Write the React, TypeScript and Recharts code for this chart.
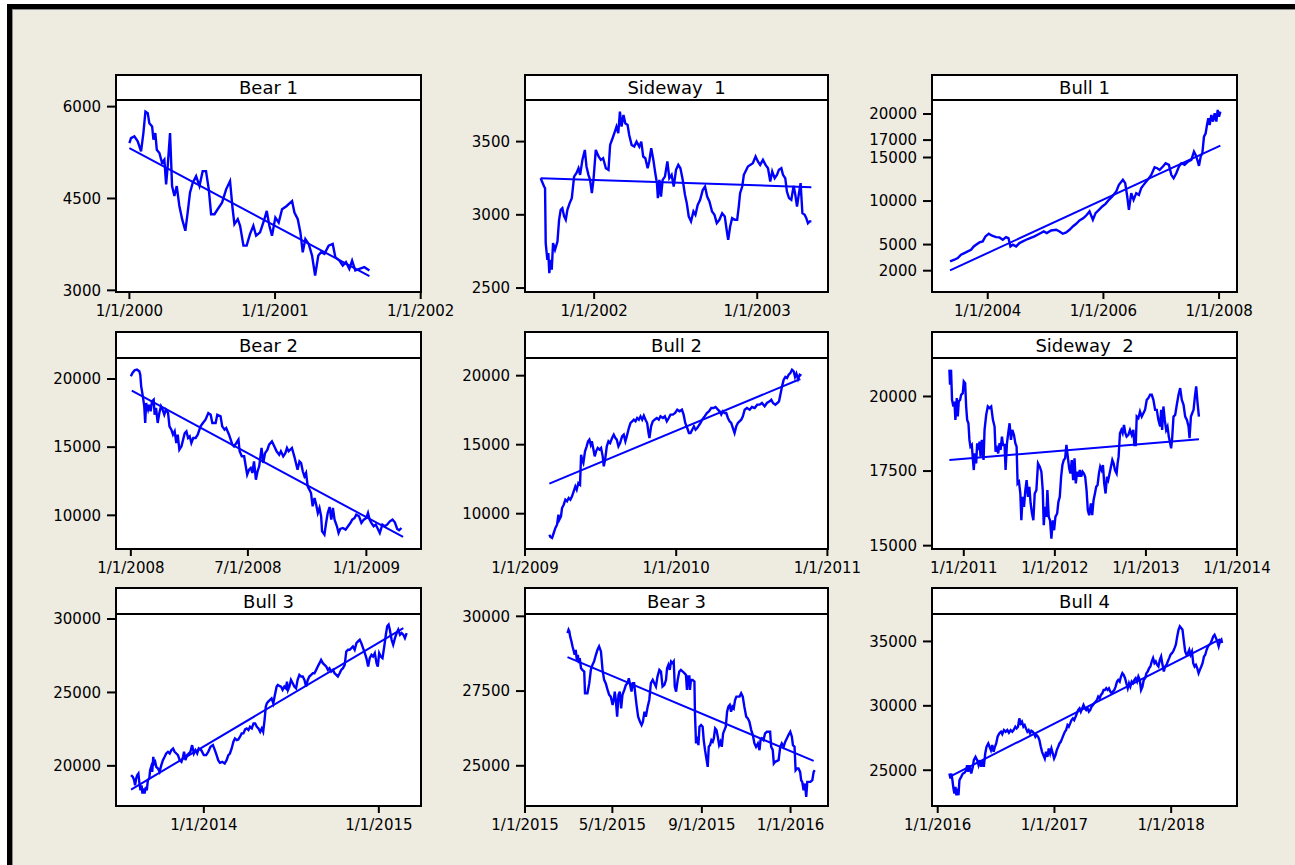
import React from "react";
import { LineChart, Line, XAxis, YAxis } from "recharts";

const BLUE = "#0000ff";
const FONT = "'DejaVu Sans', Verdana, sans-serif";

// ---- Bear 1 ----
const bear1Years = [
  2000.000, 2000.011, 2000.034, 2000.057, 2000.080, 2000.096, 2000.110, 2000.126, 2000.137, 2000.156,
  2000.165, 2000.178, 2000.188, 2000.206, 2000.224, 2000.240, 2000.252, 2000.263, 2000.279, 2000.293,
  2000.309, 2000.325, 2000.343, 2000.362, 2000.384, 2000.400, 2000.416, 2000.435, 2000.458, 2000.481,
  2000.503, 2000.526, 2000.545, 2000.561, 2000.584, 2000.606, 2000.636, 2000.664, 2000.691, 2000.709,
  2000.721, 2000.744, 2000.760, 2000.783, 2000.805, 2000.828, 2000.851, 2000.870, 2000.897, 2000.927,
  2000.943, 2000.961, 2000.979, 2001.002, 2001.025, 2001.048, 2001.080, 2001.117, 2001.133, 2001.156,
  2001.174, 2001.190, 2001.208, 2001.231, 2001.254, 2001.275, 2001.297, 2001.316, 2001.339, 2001.368,
  2001.396, 2001.414, 2001.442, 2001.465, 2001.487, 2001.510, 2001.529, 2001.551, 2001.579, 2001.613,
  2001.648,
];
const bear1Values = [
  5405, 5486, 5514, 5432, 5270, 5568, 5919, 5892, 5730, 5676,
  5460, 5568, 5297, 5243, 5081, 5135, 4730, 5027, 5568, 4703,
  4540, 4703, 4378, 4162, 3973, 4270, 4595, 4757, 4865, 4703,
  4946, 4946, 4649, 4243, 4243, 4324, 4432, 4649, 4784, 4324,
  4081, 4162, 4054, 3730, 3730, 3919, 4054, 3892, 3946, 4162,
  4297, 4054, 3892, 4189, 4108, 4324, 4378, 4459, 4270, 4162,
  3946, 3622, 3838, 3757, 3568, 3243, 3568, 3622, 3595, 3730,
  3757, 3541, 3487, 3405, 3460, 3351, 3487, 3324, 3351, 3378,
  3324,
];
const bear1TrendYears = [2000.0, 2001.648];
const bear1TrendValues = [5324, 3232];
const bear1YTicks = [3000, 4500, 6000];
const bear1XTicks = [2000, 2001, 2002];
const bear1XLabels = ["1/1/2000", "1/1/2001", "1/1/2002"];

// ---- Sideway 1 ----
const side1Years = [
  2001.672, 2001.693, 2001.699, 2001.703, 2001.713, 2001.719, 2001.725, 2001.734, 2001.740, 2001.748,
  2001.760, 2001.775, 2001.785, 2001.795, 2001.805, 2001.816, 2001.826, 2001.836, 2001.850, 2001.863,
  2001.877, 2001.891, 2001.904, 2001.914, 2001.928, 2001.943, 2001.953, 2001.965, 2001.975, 2001.986,
  2001.996, 2002.010, 2002.027, 2002.041, 2002.055, 2002.072, 2002.088, 2002.098, 2002.113, 2002.127,
  2002.137, 2002.148, 2002.158, 2002.168, 2002.180, 2002.191, 2002.205, 2002.215, 2002.230, 2002.246,
  2002.260, 2002.277, 2002.289, 2002.301, 2002.314, 2002.328, 2002.338, 2002.350, 2002.363, 2002.375,
  2002.385, 2002.391, 2002.400, 2002.410, 2002.420, 2002.434, 2002.449, 2002.461, 2002.475, 2002.488,
  2002.502, 2002.516, 2002.529, 2002.543, 2002.557, 2002.568, 2002.580, 2002.594, 2002.609, 2002.621,
  2002.635, 2002.650, 2002.666, 2002.680, 2002.693, 2002.707, 2002.723, 2002.738, 2002.752, 2002.768,
  2002.785, 2002.801, 2002.814, 2002.822, 2002.834, 2002.846, 2002.863, 2002.877, 2002.887, 2002.895,
  2002.908, 2002.918, 2002.928, 2002.943, 2002.957, 2002.973, 2002.990, 2003.004, 2003.018, 2003.035,
  2003.051, 2003.066, 2003.080, 2003.092, 2003.107, 2003.121, 2003.133, 2003.148, 2003.158, 2003.172,
  2003.182, 2003.195, 2003.209, 2003.223, 2003.232, 2003.244, 2003.256, 2003.266, 2003.277, 2003.291,
  2003.301, 2003.311, 2003.322, 2003.332,
];
const side1Values = [
  3250, 3193, 3182, 2807, 2693, 2739, 2602, 2693, 2625, 2807,
  2761, 2818, 2966, 3034, 3045, 2989, 2966, 3034, 3080, 3114,
  3261, 3284, 3318, 3273, 3375, 3443, 3330, 3273, 3239, 3148,
  3239, 3443, 3398, 3375, 3386, 3318, 3307, 3477, 3523, 3568,
  3602, 3557, 3705, 3602, 3682, 3625, 3614, 3545, 3477, 3466,
  3500, 3466, 3500, 3398, 3386, 3318, 3364, 3455, 3375, 3284,
  3216, 3114, 3239, 3125, 3239, 3261, 3364, 3250, 3273, 3193,
  3307, 3341, 3318, 3239, 3136, 3080, 2989, 2955, 3023, 3000,
  3068, 3102, 3170, 3193, 3125, 3091, 3023, 3000, 2943, 2966,
  3011, 2989, 2886, 2830, 2920, 2977, 2966, 2966, 3057, 3148,
  3193, 3273, 3296, 3330, 3341, 3352, 3398, 3364, 3341, 3375,
  3341, 3318, 3227, 3296, 3250, 3273, 3307, 3318, 3273, 3250,
  3159, 3114, 3102, 3198, 3148, 3057, 3148, 3216, 3011, 3000,
  2977, 2943, 2955, 2955,
];
const side1TrendYears = [2001.672, 2003.332];
const side1TrendValues = [3250, 3189];
const side1YTicks = [2500, 3000, 3500];
const side1XTicks = [2002, 2003];
const side1XLabels = ["1/1/2002", "1/1/2003"];

// ---- Bull 1 ----
const bull1Years = [
  2003.348, 2003.423, 2003.481, 2003.538, 2003.596, 2003.654, 2003.711, 2003.758, 2003.798, 2003.856,
  2003.913, 2003.960, 2004.017, 2004.075, 2004.144, 2004.202, 2004.260, 2004.317, 2004.358, 2004.392,
  2004.433, 2004.490, 2004.548, 2004.606, 2004.664, 2004.733, 2004.808, 2004.894, 2004.969, 2005.021,
  2005.096, 2005.183, 2005.241, 2005.298, 2005.356, 2005.414, 2005.471, 2005.529, 2005.587, 2005.656,
  2005.714, 2005.760, 2005.818, 2005.864, 2005.922, 2005.980, 2006.037, 2006.095, 2006.153, 2006.222,
  2006.268, 2006.337, 2006.377, 2006.412, 2006.441, 2006.481, 2006.522, 2006.568, 2006.614, 2006.654,
  2006.695, 2006.741, 2006.787, 2006.827, 2006.885, 2006.931, 2006.972, 2007.029, 2007.076, 2007.133,
  2007.174, 2007.214, 2007.260, 2007.306, 2007.347, 2007.404, 2007.462, 2007.520, 2007.566, 2007.595,
  2007.624, 2007.653, 2007.682, 2007.711, 2007.739, 2007.768, 2007.791, 2007.814, 2007.837, 2007.866,
  2007.895, 2007.924, 2007.953, 2007.976, 2007.999, 2008.022,
];
const bull1Values = [
  3068, 3260, 3451, 3833, 4024, 4215, 4406, 4788, 4980, 5247,
  5362, 5935, 6241, 6012, 5859, 5820, 5553, 5859, 5744, 4788,
  4980, 4788, 5171, 5362, 5553, 5744, 5935, 6241, 6509, 6317,
  6623, 6699, 6509, 6241, 6394, 6699, 7082, 7387, 7770, 8037,
  8419, 8801, 7846, 8610, 8993, 9375, 9681, 10139, 10522, 11095,
  11859, 12432, 12050, 10522, 8993, 10904, 10139, 10904, 10713, 11477,
  11859, 12241, 12623, 13006, 13885, 13770, 13579, 13961, 14343, 14152,
  13006, 12623, 13197, 13961, 14343, 14152, 14535, 14726, 15681, 15299,
  14726, 14038, 15108, 15490, 17401, 17783, 18739, 19503, 18739, 19885,
  19121, 20076, 19121, 20459, 19694, 20268,
];
const bull1TrendYears = [2003.348, 2008.022];
const bull1TrendValues = [2037, 16369];
const bull1YTicks = [2000, 5000, 10000, 15000, 17000, 20000];
const bull1XTicks = [2004, 2006, 2008];
const bull1XLabels = ["1/1/2004", "1/1/2006", "1/1/2008"];

// ---- Bear 2 ----
const bear2Years = [
  2008.000, 2008.007, 2008.016, 2008.026, 2008.036, 2008.040, 2008.044, 2008.051, 2008.057, 2008.061,
  2008.065, 2008.073, 2008.078, 2008.084, 2008.090, 2008.097, 2008.101, 2008.107, 2008.114, 2008.121,
  2008.128, 2008.135, 2008.142, 2008.149, 2008.158, 2008.164, 2008.172, 2008.179, 2008.186, 2008.193,
  2008.199, 2008.206, 2008.215, 2008.222, 2008.229, 2008.236, 2008.243, 2008.250, 2008.257, 2008.265,
  2008.275, 2008.284, 2008.296, 2008.306, 2008.317, 2008.329, 2008.339, 2008.346, 2008.360, 2008.367,
  2008.381, 2008.388, 2008.398, 2008.405, 2008.417, 2008.424, 2008.431, 2008.438, 2008.448, 2008.457,
  2008.462, 2008.471, 2008.481, 2008.488, 2008.494, 2008.502, 2008.509, 2008.516, 2008.523, 2008.531,
  2008.538, 2008.545, 2008.555, 2008.562, 2008.570, 2008.580, 2008.587, 2008.599, 2008.609, 2008.619,
  2008.630, 2008.637, 2008.647, 2008.656, 2008.663, 2008.670, 2008.684, 2008.694, 2008.701, 2008.708,
  2008.716, 2008.723, 2008.730, 2008.737, 2008.744, 2008.751, 2008.758, 2008.765, 2008.772, 2008.780,
  2008.787, 2008.794, 2008.801, 2008.808, 2008.812, 2008.822, 2008.829, 2008.836, 2008.844, 2008.851,
  2008.858, 2008.865, 2008.875, 2008.882, 2008.889, 2008.900, 2008.912, 2008.922, 2008.932, 2008.940,
  2008.950, 2008.957, 2008.969, 2008.979, 2008.989, 2009.000, 2009.007, 2009.014, 2009.021, 2009.031,
  2009.040, 2009.047, 2009.057, 2009.068, 2009.078, 2009.088, 2009.100, 2009.111, 2009.121, 2009.131,
  2009.139, 2009.149,
];
const bear2Values = [
  20196, 20440, 20636, 20685, 20562, 20318, 19462, 18729, 17995, 16773,
  18240, 17750, 18117, 17628, 18362, 18484, 17384, 17873, 16773, 17506,
  17995, 17750, 17384, 17750, 17506, 16528, 16284, 15917, 16162, 15306,
  15917, 14817, 15061, 15550, 16039, 16162, 15673, 15795, 15306, 15673,
  15673, 15917, 16528, 16773, 17017, 17506, 17384, 16773, 16773, 17384,
  17262, 16528, 16284, 16406, 15917, 15550, 15184, 15061, 15306, 15550,
  14695, 14328, 14328, 13595, 12983, 13350, 13473, 13106, 13961, 12616,
  13228, 13595, 14939, 13839, 14562, 14817, 15184, 15428, 15061, 14695,
  14450, 14695, 14328, 14562, 14939, 14695, 14939, 14328, 13839, 13350,
  13961, 13839, 13228, 12861, 13106, 12128, 11884, 11639, 10661, 11272,
  10783, 10172, 10539, 9928, 8827, 8583, 9438, 10172, 10611, 9683,
  10539, 9683, 9194, 8705, 8999, 9072, 8949, 9194, 9438, 9683,
  9805, 10050, 9928, 9438, 9683, 9805, 10172, 9683, 9438, 9194,
  9316, 9072, 8705, 9316, 9194, 9316, 9561, 9683, 9487, 8999,
  8901, 9072,
];
const bear2TrendYears = [2008.004, 2009.156];
const bear2TrendValues = [19144, 8411];
const bear2YTicks = [10000, 15000, 20000];
const bear2XTicks = [2008, 2008.497, 2009];
const bear2XLabels = ["1/1/2008", "7/1/2008", "1/1/2009"];

// ---- Bull 2 ----
const bull2Years = [
  2009.161, 2009.168, 2009.179, 2009.190, 2009.201, 2009.212, 2009.221, 2009.227, 2009.238, 2009.245,
  2009.256, 2009.267, 2009.278, 2009.289, 2009.300, 2009.311, 2009.322, 2009.333, 2009.342, 2009.353,
  2009.364, 2009.371, 2009.377, 2009.386, 2009.397, 2009.408, 2009.417, 2009.426, 2009.435, 2009.442,
  2009.453, 2009.461, 2009.470, 2009.481, 2009.492, 2009.503, 2009.514, 2009.521, 2009.530, 2009.541,
  2009.552, 2009.563, 2009.576, 2009.587, 2009.598, 2009.607, 2009.618, 2009.629, 2009.642, 2009.653,
  2009.664, 2009.673, 2009.687, 2009.698, 2009.709, 2009.720, 2009.731, 2009.742, 2009.753, 2009.764,
  2009.775, 2009.786, 2009.797, 2009.808, 2009.817, 2009.823, 2009.834, 2009.845, 2009.857, 2009.872,
  2009.885, 2009.896, 2009.912, 2009.925, 2009.938, 2009.951, 2009.962, 2009.978, 2009.993, 2010.007,
  2010.022, 2010.038, 2010.049, 2010.060, 2010.073, 2010.084, 2010.095, 2010.106, 2010.117, 2010.128,
  2010.139, 2010.161, 2010.172, 2010.188, 2010.203, 2010.216, 2010.232, 2010.247, 2010.260, 2010.276,
  2010.287, 2010.298, 2010.309, 2010.320, 2010.331, 2010.342, 2010.353, 2010.364, 2010.375, 2010.386,
  2010.397, 2010.408, 2010.419, 2010.430, 2010.441, 2010.453, 2010.468, 2010.486, 2010.501, 2010.519,
  2010.536, 2010.552, 2010.567, 2010.585, 2010.600, 2010.618, 2010.629, 2010.640, 2010.656, 2010.669,
  2010.680, 2010.689, 2010.700, 2010.711, 2010.722, 2010.733, 2010.744, 2010.755, 2010.766, 2010.777,
  2010.786, 2010.795, 2010.806, 2010.817, 2010.828,
];
const bull2Values = [
  8481, 8311, 8239, 8601, 8964, 9205, 9930, 9567, 9809, 10412,
  10654, 11016, 10895, 11137, 11016, 11258, 11620, 11982, 11740, 12224,
  12103, 14276, 13915, 13673, 14518, 14880, 15243, 15363, 15001, 15243,
  14639, 14156, 14518, 14759, 14639, 14759, 14156, 13431, 13915, 14880,
  15243, 15122, 15484, 15726, 15484, 15363, 14880, 15122, 15605, 15726,
  15243, 15605, 16208, 16571, 16692, 16812, 16692, 16933, 16812, 17054,
  16812, 17102, 16812, 16571, 15846, 15484, 16329, 16692, 16812, 16933,
  16812, 17054, 16933, 17054, 16692, 16933, 17175, 17175, 17295, 17537,
  17416, 17537, 17175, 16571, 16208, 15846, 15846, 16088, 16329, 16088,
  16208, 16571, 16812, 17054, 17295, 17416, 17658, 17658, 17730, 17537,
  17416, 17175, 17416, 17295, 17295, 16933, 16692, 16571, 16208, 15846,
  16329, 16571, 16692, 16812, 17054, 17537, 17658, 17537, 17730, 17658,
  17899, 17899, 18020, 17778, 18020, 18141, 18261, 18020, 17899, 18020,
  18141, 18623, 19227, 19710, 19903, 19831, 20072, 20193, 20435, 20314,
  19903, 20145, 19758, 20072, 20000,
];
const bull2TrendYears = [2009.161, 2010.821];
const bull2TrendValues = [12175, 19758];
const bull2YTicks = [10000, 15000, 20000];
const bull2XTicks = [2009, 2010, 2011];
const bull2XLabels = ["1/1/2009", "1/1/2010", "1/1/2011"];

// ---- Sideway 2 ----
const side2Years = [
  2010.842, 2010.849, 2010.860, 2010.871, 2010.886, 2010.897, 2010.908, 2010.923, 2010.934, 2010.945,
  2010.960, 2010.971, 2010.989, 2011.000, 2011.015, 2011.026, 2011.037, 2011.051, 2011.062, 2011.073,
  2011.088, 2011.099, 2011.110, 2011.121, 2011.136, 2011.147, 2011.162, 2011.173, 2011.184, 2011.198,
  2011.217, 2011.228, 2011.246, 2011.264, 2011.283, 2011.301, 2011.320, 2011.338, 2011.349, 2011.364,
  2011.378, 2011.393, 2011.404, 2011.419, 2011.430, 2011.448, 2011.459, 2011.474, 2011.488, 2011.503,
  2011.518, 2011.533, 2011.551, 2011.566, 2011.580, 2011.591, 2011.606, 2011.621, 2011.632, 2011.646,
  2011.661, 2011.676, 2011.690, 2011.705, 2011.720, 2011.734, 2011.749, 2011.764, 2011.779, 2011.797,
  2011.815, 2011.834, 2011.852, 2011.867, 2011.878, 2011.892, 2011.907, 2011.918, 2011.933, 2011.947,
  2011.962, 2011.977, 2011.992, 2012.006, 2012.025, 2012.039, 2012.054, 2012.069, 2012.083, 2012.098,
  2012.113, 2012.127, 2012.142, 2012.157, 2012.171, 2012.186, 2012.201, 2012.216, 2012.230, 2012.245,
  2012.260, 2012.274, 2012.289, 2012.304, 2012.318, 2012.333, 2012.348, 2012.362, 2012.377, 2012.396,
  2012.410, 2012.425, 2012.440, 2012.454, 2012.469, 2012.484, 2012.498, 2012.513, 2012.528, 2012.542,
  2012.557, 2012.572, 2012.586, 2012.601, 2012.616, 2012.631, 2012.645, 2012.660, 2012.678, 2012.689,
  2012.700, 2012.715, 2012.730, 2012.744, 2012.759, 2012.774, 2012.788, 2012.807, 2012.825, 2012.844,
  2012.862, 2012.873, 2012.888, 2012.899, 2012.917, 2012.935, 2012.954, 2012.972, 2012.990, 2013.009,
  2013.027, 2013.046, 2013.064, 2013.082, 2013.101, 2013.119, 2013.137, 2013.156, 2013.167, 2013.178,
  2013.192, 2013.207, 2013.222, 2013.237, 2013.251, 2013.266, 2013.277, 2013.288, 2013.303, 2013.321,
  2013.339, 2013.358, 2013.376, 2013.394, 2013.413, 2013.431, 2013.450, 2013.468, 2013.479, 2013.494,
  2013.508, 2013.523, 2013.538, 2013.552, 2013.567, 2013.582,
];
const side2Values = [
  20897, 20392, 20897, 19888, 19664, 19832, 19215, 19944, 19327, 19832,
  19888, 20056, 20112, 20504, 20448, 19664, 19215, 19103, 18543, 18319,
  18375, 17926, 17534, 18094, 17758, 18431, 18206, 18487, 17982, 18543,
  17870, 18879, 19383, 19664, 19608, 19664, 19215, 18991, 18150, 18262,
  18094, 18431, 18206, 18655, 18375, 18375, 17534, 18431, 18767, 19103,
  18543, 18879, 18711, 18431, 18319, 17085, 17141, 16749, 15852, 16637,
  16301, 16861, 17198, 16637, 16973, 16413, 16077, 15852, 16749, 16861,
  17758, 17646, 17478, 16861, 15684, 16301, 15964, 16861, 15964, 15852,
  15236, 15852, 15516, 15964, 16077, 16469, 16637, 17310, 17702, 17870,
  17926, 18375, 17982, 17590, 17422, 17870, 17198, 17926, 17085, 17478,
  17310, 17534, 17310, 17478, 17422, 17310, 16861, 16189, 16020, 16413,
  16020, 16525, 16749, 16973, 17029, 17422, 17646, 17534, 17702, 17085,
  16749, 17310, 17198, 17422, 17646, 17870, 17758, 17534, 17422, 17758,
  17982, 18767, 18879, 18767, 19047, 18767, 18655, 18711, 18879, 18711,
  18879, 18375, 18375, 19327, 19271, 19495, 19327, 19439, 19552, 19888,
  19944, 20056, 20056, 19888, 19552, 19552, 19215, 18991, 19552, 18879,
  19664, 19215, 18879, 18991, 18655, 18431, 18262, 18599, 19327, 19383,
  19720, 20056, 20280, 19888, 19720, 19327, 19215, 18991, 18599, 19327,
  19439, 19552, 20000, 20336, 19776, 19327,
];
const side2TrendYears = [2010.842, 2013.582];
const side2TrendValues = [17870, 18565];
const side2YTicks = [15000, 17500, 20000];
const side2XTicks = [2011, 2012, 2013, 2014];
const side2XLabels = ["1/1/2011", "1/1/2012", "1/1/2013", "1/1/2014"];

// ---- Bull 3 ----
const bull3Years = [
  2013.584, 2013.594, 2013.602, 2013.607, 2013.613, 2013.619, 2013.626, 2013.632, 2013.638, 2013.644,
  2013.649, 2013.655, 2013.661, 2013.669, 2013.674, 2013.680, 2013.688, 2013.693, 2013.699, 2013.705,
  2013.711, 2013.716, 2013.722, 2013.728, 2013.738, 2013.747, 2013.757, 2013.766, 2013.776, 2013.785,
  2013.795, 2013.805, 2013.814, 2013.824, 2013.833, 2013.843, 2013.852, 2013.862, 2013.872, 2013.881,
  2013.887, 2013.895, 2013.904, 2013.914, 2013.923, 2013.933, 2013.943, 2013.952, 2013.962, 2013.971,
  2013.985, 2014.000, 2014.013, 2014.025, 2014.038, 2014.052, 2014.063, 2014.073, 2014.082, 2014.092,
  2014.105, 2014.119, 2014.130, 2014.140, 2014.149, 2014.159, 2014.169, 2014.178, 2014.188, 2014.197,
  2014.207, 2014.216, 2014.226, 2014.236, 2014.245, 2014.255, 2014.264, 2014.274, 2014.284, 2014.293,
  2014.303, 2014.312, 2014.322, 2014.331, 2014.339, 2014.347, 2014.354, 2014.360, 2014.368, 2014.377,
  2014.387, 2014.397, 2014.406, 2014.416, 2014.423, 2014.431, 2014.441, 2014.450, 2014.460, 2014.469,
  2014.475, 2014.481, 2014.489, 2014.498, 2014.508, 2014.517, 2014.527, 2014.536, 2014.546, 2014.556,
  2014.565, 2014.575, 2014.584, 2014.594, 2014.603, 2014.613, 2014.623, 2014.632, 2014.642, 2014.651,
  2014.661, 2014.670, 2014.680, 2014.690, 2014.699, 2014.709, 2014.718, 2014.728, 2014.738, 2014.747,
  2014.757, 2014.766, 2014.776, 2014.785, 2014.795, 2014.805, 2014.814, 2014.824, 2014.833, 2014.843,
  2014.852, 2014.862, 2014.872, 2014.881, 2014.891, 2014.900, 2014.910, 2014.920, 2014.929, 2014.939,
  2014.948, 2014.958, 2014.967, 2014.977, 2014.987, 2014.994, 2015.002, 2015.011, 2015.021, 2015.031,
  2015.040, 2015.048, 2015.056, 2015.063, 2015.073, 2015.082, 2015.092, 2015.102, 2015.111, 2015.121,
  2015.130, 2015.140, 2015.149, 2015.159,
];
const bull3Values = [
  19362, 19248, 19020, 18678, 19134, 19362, 19476, 18792, 18337, 18678,
  18109, 18451, 18109, 18564, 18337, 19020, 19134, 19703, 19931, 19590,
  20615, 20159, 20273, 19931, 19817, 19590, 20045, 20387, 20615, 20842,
  20956, 20842, 21070, 21184, 20956, 20842, 20729, 20387, 20273, 20615,
  20956, 20387, 20729, 20842, 20956, 21412, 20842, 21070, 20842, 21184,
  21070, 20729, 20729, 20956, 21298, 21412, 21070, 20729, 20387, 20205,
  20273, 20159, 20387, 20729, 20842, 21184, 21640, 21867, 21753, 21799,
  21981, 22209, 22209, 22483, 22551, 22437, 22665, 22551, 22893, 22893,
  22665, 22551, 22323, 22551, 22323, 23121, 24032, 24260, 24373, 24487,
  24601, 24260, 24829, 25398, 25512, 25444, 25398, 25171, 25398, 25284,
  25740, 25171, 25398, 25854, 25626, 25398, 25284, 25854, 26196, 26082,
  26082, 25854, 25398, 25854, 26082, 26196, 26310, 26310, 26537, 26765,
  26993, 27221, 26993, 26879, 26765, 26537, 26651, 26424, 26537, 26310,
  26196, 26082, 26310, 26537, 26651, 26879, 27790, 27904, 27904, 28018,
  28132, 27904, 28360, 28474, 28588, 28360, 28018, 27676, 27335, 26765,
  27335, 27563, 27449, 27676, 26993, 26765, 27676, 27449, 27335, 28132,
  28929, 29499, 29613, 29271, 28588, 28246, 28702, 29043, 29271, 28929,
  29043, 28929, 28702, 29043,
];
const bull3TrendYears = [2013.584, 2015.14];
const bull3TrendValues = [18382, 29385];
const bull3YTicks = [20000, 25000, 30000];
const bull3XTicks = [2014, 2015];
const bull3XLabels = ["1/1/2014", "1/1/2015"];

// ---- Bear 3 ----
const bear3Years = [
  2015.160, 2015.164, 2015.167, 2015.170, 2015.175, 2015.179, 2015.184, 2015.187, 2015.191, 2015.195,
  2015.199, 2015.203, 2015.206, 2015.211, 2015.216, 2015.223, 2015.226, 2015.235, 2015.242, 2015.248,
  2015.254, 2015.260, 2015.267, 2015.273, 2015.279, 2015.286, 2015.292, 2015.298, 2015.304, 2015.311,
  2015.317, 2015.323, 2015.330, 2015.335, 2015.338, 2015.342, 2015.347, 2015.352, 2015.357, 2015.362,
  2015.367, 2015.374, 2015.380, 2015.386, 2015.391, 2015.396, 2015.401, 2015.406, 2015.411, 2015.415,
  2015.420, 2015.426, 2015.433, 2015.439, 2015.444, 2015.450, 2015.455, 2015.462, 2015.468, 2015.474,
  2015.481, 2015.487, 2015.493, 2015.499, 2015.506, 2015.512, 2015.518, 2015.525, 2015.531, 2015.535,
  2015.540, 2015.545, 2015.550, 2015.556, 2015.560, 2015.564, 2015.569, 2015.575, 2015.581, 2015.587,
  2015.594, 2015.600, 2015.606, 2015.610, 2015.614, 2015.619, 2015.621, 2015.625, 2015.631, 2015.638,
  2015.640, 2015.644, 2015.648, 2015.653, 2015.657, 2015.663, 2015.669, 2015.673, 2015.678, 2015.683,
  2015.688, 2015.692, 2015.697, 2015.702, 2015.707, 2015.711, 2015.716, 2015.721, 2015.726, 2015.731,
  2015.736, 2015.741, 2015.746, 2015.751, 2015.756, 2015.761, 2015.766, 2015.771, 2015.776, 2015.781,
  2015.786, 2015.791, 2015.796, 2015.808, 2015.814, 2015.820, 2015.826, 2015.833, 2015.839, 2015.845,
  2015.852, 2015.858, 2015.864, 2015.870, 2015.877, 2015.883, 2015.887, 2015.892, 2015.898, 2015.904,
  2015.911, 2015.923, 2015.927, 2015.933, 2015.937, 2015.942, 2015.955, 2015.961, 2015.967, 2015.974,
  2015.980, 2015.986, 2015.992, 2015.999, 2016.005, 2016.009, 2016.015, 2016.019, 2016.024, 2016.030,
  2016.036, 2016.040, 2016.044, 2016.049, 2016.054, 2016.059, 2016.063, 2016.075, 2016.082, 2016.087,
  2016.091,
];
const bear3Values = [
  29440, 29552, 29496, 29329, 29161, 28993, 28825, 28713, 28881, 28545,
  28713, 28433, 28601, 28266, 28210, 28154, 27426, 27426, 27762, 28210,
  28377, 28489, 28713, 28881, 28993, 28825, 28210, 27874, 27762, 27538,
  27370, 27314, 27035, 27258, 27482, 27202, 26643, 27370, 27482, 26923,
  27370, 27538, 27706, 27762, 27930, 27706, 27482, 27762, 27762, 27426,
  27035, 26643, 26475, 26363, 26475, 26811, 26643, 26979, 27202, 27762,
  27874, 27762, 27650, 27986, 28210, 28154, 27650, 27706, 27874, 28266,
  28377, 28210, 28489, 28433, 28489, 27650, 27482, 27874, 28154, 28210,
  28154, 28098, 28042, 27538, 27986, 27986, 27538, 27874, 27874, 27818,
  26755, 25748, 25972, 25692, 26307, 26363, 26307, 25860, 25524, 25244,
  24965, 25636, 25692, 25860, 25804, 25916, 26251, 26195, 25972, 25692,
  25804, 25636, 26083, 26195, 26307, 26811, 26979, 27035, 26811, 26979,
  26923, 27202, 27314, 27314, 27426, 27314, 26979, 26643, 26587, 26475,
  26195, 26028, 25748, 25636, 25748, 25524, 25860, 25916, 25860, 26083,
  26139, 26139, 25636, 25524, 25077, 25133, 25189, 25636, 25748, 25636,
  25804, 25916, 26028, 26139, 25972, 25692, 25636, 24853, 24909, 24909,
  24797, 24517, 24461, 24181, 24405, 23957, 24461, 24461, 24517, 24797,
  24853,
];
const bear3TrendYears = [2015.16, 2016.087];
const bear3TrendValues = [28635, 25166];
const bear3YTicks = [25000, 27500, 30000];
const bear3XTicks = [2015, 2015.329, 2015.666, 2016];
const bear3XLabels = ["1/1/2015", "5/1/2015", "9/1/2015", "1/1/2016"];

// ---- Bull 4 ----
const bull4Years = [
  2016.100, 2016.109, 2016.117, 2016.126, 2016.135, 2016.143, 2016.152, 2016.160, 2016.169, 2016.178,
  2016.186, 2016.201, 2016.215, 2016.229, 2016.244, 2016.252, 2016.261, 2016.272, 2016.287, 2016.301,
  2016.309, 2016.324, 2016.338, 2016.350, 2016.361, 2016.372, 2016.384, 2016.395, 2016.407, 2016.418,
  2016.433, 2016.444, 2016.456, 2016.467, 2016.479, 2016.490, 2016.501, 2016.513, 2016.527, 2016.542,
  2016.553, 2016.567, 2016.582, 2016.596, 2016.610, 2016.625, 2016.639, 2016.650, 2016.665, 2016.676,
  2016.688, 2016.699, 2016.711, 2016.722, 2016.734, 2016.745, 2016.756, 2016.768, 2016.779, 2016.791,
  2016.802, 2016.814, 2016.825, 2016.837, 2016.848, 2016.860, 2016.871, 2016.883, 2016.894, 2016.905,
  2016.917, 2016.928, 2016.940, 2016.951, 2016.963, 2016.974, 2016.986, 2016.997, 2017.009, 2017.020,
  2017.032, 2017.043, 2017.054, 2017.066, 2017.077, 2017.089, 2017.100, 2017.112, 2017.123, 2017.135,
  2017.146, 2017.158, 2017.169, 2017.181, 2017.192, 2017.203, 2017.215, 2017.226, 2017.238, 2017.249,
  2017.261, 2017.272, 2017.284, 2017.295, 2017.307, 2017.318, 2017.330, 2017.341, 2017.352, 2017.364,
  2017.375, 2017.387, 2017.398, 2017.410, 2017.421, 2017.433, 2017.444, 2017.456, 2017.467, 2017.479,
  2017.490, 2017.501, 2017.513, 2017.524, 2017.536, 2017.547, 2017.559, 2017.570, 2017.582, 2017.593,
  2017.605, 2017.616, 2017.628, 2017.639, 2017.650, 2017.662, 2017.673, 2017.685, 2017.696, 2017.708,
  2017.719, 2017.731, 2017.742, 2017.754, 2017.765, 2017.777, 2017.788, 2017.799, 2017.811, 2017.822,
  2017.834, 2017.845, 2017.857, 2017.868, 2017.880, 2017.891, 2017.903, 2017.914, 2017.926, 2017.937,
  2017.948, 2017.960, 2017.971, 2017.983, 2017.994, 2018.006, 2018.017, 2018.029, 2018.040, 2018.052,
  2018.063, 2018.074, 2018.086, 2018.097, 2018.109, 2018.120, 2018.132, 2018.143, 2018.155, 2018.166,
  2018.178, 2018.189, 2018.201, 2018.212, 2018.223, 2018.235, 2018.246, 2018.258, 2018.269, 2018.281,
  2018.292, 2018.304, 2018.315, 2018.327, 2018.338, 2018.350, 2018.361, 2018.372, 2018.384, 2018.395,
  2018.407, 2018.418, 2018.430, 2018.436,
];
const bull4Values = [
  24740, 24352, 24740, 24222, 23573, 23183, 23703, 23054, 23573, 23054,
  24222, 24482, 24740, 24794, 25000, 25390, 24871, 25390, 24740, 25261,
  25781, 26041, 25781, 25390, 25781, 25261, 25781, 25261, 26300, 26820,
  27079, 26820, 26560, 26949, 26430, 26820, 27079, 27598, 27858, 27988,
  27806, 28118, 27988, 28118, 27910, 28118, 27988, 28118, 28378, 28248,
  28378, 29027, 28637, 28767, 28378, 28507, 28248, 27988, 28118, 27858,
  28066, 27988, 27858, 27598, 27728, 27598, 27339, 26820, 26430, 26170,
  25910, 26430, 26041, 26690, 26300, 26690, 26300, 25910, 26170, 26560,
  26820, 27079, 27209, 27469, 27728, 27988, 28118, 28507, 28378, 28637,
  28897, 29027, 28897, 29156, 29416, 29676, 29806, 29546, 29806, 30065,
  29806, 29676, 29806, 29546, 29676, 29935, 30065, 30195, 30325, 30455,
  30715, 30585, 30844, 30974, 31234, 31234, 31364, 31234, 31364, 31104,
  30974, 31104, 31234, 31494, 31883, 32013, 31883, 32273, 32533, 32403,
  32143, 31753, 31364, 31753, 31494, 31883, 31753, 32013, 32143, 31883,
  32273, 32013, 31234, 31494, 32013, 32143, 32533, 32663, 32922, 33052,
  33442, 33701, 33312, 33442, 33182, 33052, 33571, 33831, 33182, 32663,
  33052, 33182, 33442, 33701, 33961, 34091, 34221, 34481, 34740, 35390,
  35909, 36169, 36039, 35909, 35000, 34221, 33961, 34091, 34351, 33961,
  34221, 33312, 33052, 33182, 32922, 32533, 32792, 33052, 33312, 33831,
  33961, 34351, 34610, 34740, 34870, 35130, 35390, 35519, 35260, 35000,
  34610, 35000, 35130, 34870,
];
const bull4TrendYears = [2016.1, 2018.421];
const bull4TrendValues = [24482, 35182];
const bull4YTicks = [25000, 30000, 35000];
const bull4XTicks = [2016, 2017, 2018];
const bull4XLabels = ["1/1/2016", "1/1/2017", "1/1/2018"];

// grid of frames (pixel edges of each plot box)
const COLS = [
  { left: 116, right: 421 },
  { left: 525, right: 828 },
  { left: 932, right: 1237 },
];
const ROWS = [
  { top: 74, plotTop: 100, bottom: 292 },
  { top: 331, plotTop: 358, bottom: 549 },
  { top: 587, plotTop: 614, bottom: 806 },
];

interface PanelDef {
  title: string;
  col: number;
  row: number;
  years: number[];
  values: number[];
  trendYears: number[];
  trendValues: number[];
  xDomain: [number, number];
  yDomain: [number, number];
  xTicks: number[];
  xLabels: string[];
  yTicks: number[];
}

const PANELS: PanelDef[] = [
  { title: "Bear 1", col: 0, row: 0, years: bear1Years, values: bear1Values, trendYears: bear1TrendYears, trendValues: bear1TrendValues, xDomain: [1999.908, 2002.002], yDomain: [2973, 6108], xTicks: bear1XTicks, xLabels: bear1XLabels, yTicks: bear1YTicks },
  { title: "Sideway  1", col: 1, row: 0, years: side1Years, values: side1Values, trendYears: side1TrendYears, trendValues: side1TrendValues, xDomain: [2001.576, 2003.434], yDomain: [2473, 3784], xTicks: side1XTicks, xLabels: side1XLabels, yTicks: side1YTicks },
  { title: "Bull 1", col: 2, row: 0, years: bull1Years, values: bull1Values, trendYears: bull1TrendYears, trendValues: bull1TrendValues, xDomain: [2003.036, 2008.31], yDomain: [-448, 21605], xTicks: bull1XTicks, xLabels: bull1XLabels, yTicks: bull1YTicks },
  { title: "Bear 2", col: 0, row: 1, years: bear2Years, values: bear2Values, trendYears: bear2TrendYears, trendValues: bear2TrendValues, xDomain: [2007.937, 2009.232], yDomain: [7530, 21540], xTicks: bear2XTicks, xLabels: bear2XLabels, yTicks: bear2YTicks },
  { title: "Bull 2", col: 1, row: 1, years: bull2Years, values: bull2Values, trendYears: bull2TrendYears, trendValues: bull2TrendValues, xDomain: [2009.0, 2011.004], yDomain: [7442, 21280], xTicks: bull2XTicks, xLabels: bull2XLabels, yTicks: bull2YTicks },
  { title: "Sideway  2", col: 2, row: 1, years: side2Years, values: side2Values, trendYears: side2TrendYears, trendValues: side2TrendValues, xDomain: [2010.651, 2014.0], yDomain: [14888, 21289], xTicks: side2XTicks, xLabels: side2XLabels, yTicks: side2YTicks },
  { title: "Bull 3", col: 0, row: 2, years: bull3Years, values: bull3Values, trendYears: bull3TrendYears, trendValues: bull3TrendValues, xDomain: [2013.498, 2015.241], yDomain: [17266, 30342], xTicks: bull3XTicks, xLabels: bull3XLabels, yTicks: bull3YTicks },
  { title: "Bear 3", col: 1, row: 2, years: bear3Years, values: bear3Values, trendYears: bear3TrendYears, trendValues: bear3TrendValues, xDomain: [2015.0, 2016.141], yDomain: [23655, 30078], xTicks: bear3XTicks, xLabels: bear3XLabels, yTicks: bear3YTicks },
  { title: "Bull 4", col: 2, row: 2, years: bull4Years, values: bull4Values, trendYears: bull4TrendYears, trendValues: bull4TrendValues, xDomain: [2015.951, 2018.564], yDomain: [22222, 37130], xTicks: bull4XTicks, xLabels: bull4XLabels, yTicks: bull4YTicks },
];

const toPoints = (xs: number[], ys: number[]) => xs.map((t, i) => ({ t, v: ys[i] }));

const Y_W = 80;
const X_H = 35;
const TOP_PAD = 14;
const RIGHT_PAD = 45;

function Panel({ p }: { p: PanelDef }) {
  const c = COLS[p.col];
  const r = ROWS[p.row];
  const w = c.right - c.left;
  const h = r.bottom - r.plotTop;
  const tickFont = { fill: "#000", fontSize: 15, fontFamily: FONT };
  const label = (v: number) => {
    const i = p.xTicks.findIndex((x) => Math.abs(x - v) < 1e-6);
    return i >= 0 ? p.xLabels[i] : "";
  };
  return (
    <>
      {/* title strip */}
      <div
        style={{
          position: "absolute", left: c.left - 1, top: r.top, width: w + 2, height: r.plotTop - r.top + 1,
          border: "2px solid #000", boxSizing: "border-box", background: "#fff",
          display: "flex", alignItems: "center", justifyContent: "center",
          fontFamily: FONT, fontSize: 18, color: "#000", whiteSpace: "pre",
        }}
      >
        {p.title}
      </div>
      {/* plot frame */}
      <div
        style={{
          position: "absolute", left: c.left - 1, top: r.plotTop - 1, width: w + 2, height: h + 2,
          border: "2px solid #000", boxSizing: "border-box", background: "#fff",
        }}
      />
      <div style={{ position: "absolute", left: c.left - Y_W, top: r.plotTop - TOP_PAD }}>
        <LineChart
          width={w + Y_W + RIGHT_PAD}
          height={h + X_H + TOP_PAD}
          margin={{ top: TOP_PAD, right: RIGHT_PAD, bottom: 0, left: 0 }}
        >
          <XAxis
            type="number" dataKey="t" domain={p.xDomain} ticks={p.xTicks} interval={0} allowDataOverflow
            axisLine={false} tickLine={{ stroke: "#000", strokeWidth: 2 }} tickSize={7} tickMargin={6}
            height={X_H} tick={tickFont} tickFormatter={label}
          />
          <YAxis
            type="number" domain={p.yDomain} ticks={p.yTicks} interval={0} allowDataOverflow
            axisLine={false} tickLine={{ stroke: "#000", strokeWidth: 2 }} tickSize={9} tickMargin={6}
            width={Y_W} tick={tickFont}
          />
          <Line data={toPoints(p.trendYears, p.trendValues)} dataKey="v" type="linear" stroke={BLUE} strokeWidth={2} dot={false} isAnimationActive={false} />
          <Line data={toPoints(p.years, p.values)} dataKey="v" type="linear" stroke={BLUE} strokeWidth={2.4} dot={false} isAnimationActive={false} />
        </LineChart>
      </div>
    </>
  );
}

export default function App() {
  return (
    <div style={{ position: "absolute", left: 0, top: 0, width: 1295, height: 865, background: "#fff", overflow: "hidden" }}>
      <div
        style={{
          position: "absolute", left: 7, top: 4, right: 0, bottom: 0,
          borderTop: "5px solid #000", borderLeft: "5px solid #000",
          background: "#eeebe1", boxShadow: "inset 1px 1px 0 #8c8c8c",
        }}
      />
      {PANELS.map((p) => (
        <Panel key={p.title} p={p} />
      ))}
    </div>
  );
}
